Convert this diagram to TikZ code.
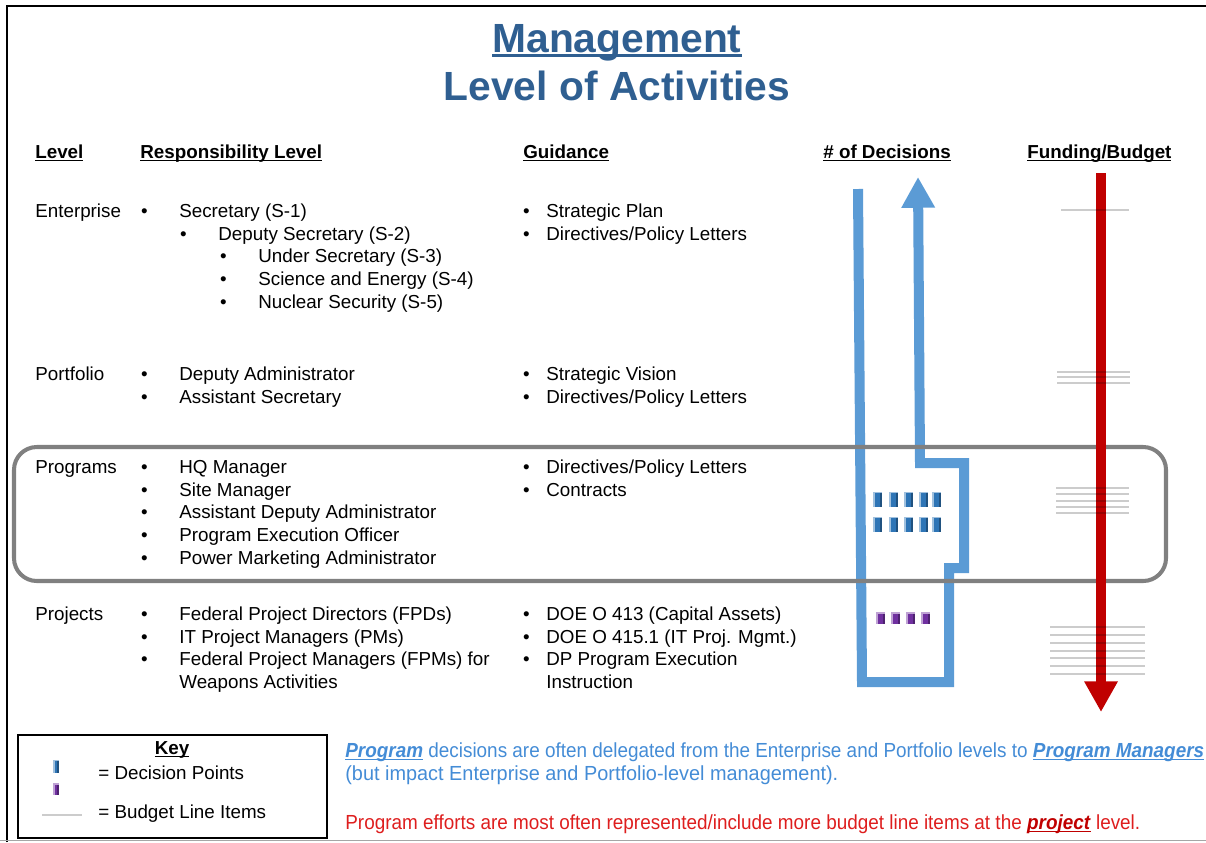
\documentclass[tikz,border=0pt]{standalone}
\usepackage{graphicx}
\usepackage{fontspec}
\setmainfont{Liberation Sans}
\usetikzlibrary{arrows.meta}

\definecolor{ttlblue}{RGB}{47,95,145}
\definecolor{decblue}{RGB}{91,155,213}
\definecolor{noteblue}{RGB}{68,140,214}
\definecolor{fundred}{RGB}{192,0,0}
\definecolor{notered}{RGB}{222,30,30}
\definecolor{boxgray}{RGB}{128,128,128}
\definecolor{ptblue}{RGB}{46,117,182}
\definecolor{ptpurple}{RGB}{112,48,160}

\providecommand{\bu}[1]{\llap{\textbullet\hskip#1}}
\providecommand{\undl}[3]{\setbox0\hbox{#3}\rlap{\usebox0}\rule[-#1]{\wd0}{#2}}
\providecommand{\dpoint}[5]{%
  \fill[#5] ({#1-#3/2},{#2-#4/2}) rectangle ({#1+#3/2},{#2+#4/2});
  \fill[#5!45!white] ({#1-#3/2},{#2-#4/2}) rectangle ({#1-#3/2+2},{#2+#4/2});
  \fill[#5!45!white] ({#1-#3/2},{#2-#4/2}) rectangle ({#1+#3/2},{#2-#4/2+1.5});
  \fill[#5!70!black] ({#1+#3/2-2},{#2-#4/2+1.5}) rectangle ({#1+#3/2},{#2+#4/2});}

\tikzstyle{txt} = [inner sep=0pt, anchor=base west, font={\fontsize{10.7pt}{13}\selectfont}]
\tikzstyle{hd} = [txt, font={\bfseries\fontsize{10.7pt}{13}\selectfont}]
\tikzstyle{ttl} = [inner sep=0pt, anchor=base, text=ttlblue, font={\bfseries\fontsize{23.2pt}{28}\selectfont}]
\tikzstyle{note} = [txt, font={\fontsize{11.6pt}{14}\selectfont}]
\tikzstyle{budget} = [draw=black, draw opacity=0.2, line width=0.85pt]

\begin{document}
\begin{tikzpicture}[x=0.02cm, y=-0.02cm, >={Triangle[width=18pt, length=17.5pt]}]
    \path [use as bounding box] (0,0) rectangle (1206,842);
    \draw [line width=1.4pt] (7,842) -- (7,6) -- (1206,6);
    \draw [gray!70, line width=1.1pt] (0,840.5) -- (1206,840.5);

    \node [ttl] (ttlA) at (617,52) {\undl{3pt}{1.6pt}{Management}};
    \node [ttl] (ttlB) at (617,100) {Level of Activities};

    \node [hd] (hLevel) at (35,158) {\undl{1.8pt}{0.9pt}{Level}};
    \node [hd] (hResp) at (140,158) {\undl{1.8pt}{0.9pt}{Responsibility Level}};
    \node [hd] (hGuide) at (523,158) {\undl{1.8pt}{0.9pt}{Guidance}};
    \node [hd] (hDec) at (823,158) {\undl{1.8pt}{0.9pt}{\# of Decisions}};
    \node [hd] (hFund) at (1027,158) {\undl{1.8pt}{0.9pt}{Funding/Budget}};

    % enterprise
    \node [txt] (lvEnt) at (35,217) {Enterprise};
    \node [txt] (rsEnt1) at (179,217) {\bu{18pt}Secretary (S-1)};
    \node [txt] (rsEnt2) at (218,240) {\bu{18pt}Deputy Secretary (S-2)};
    \node [txt] (rsEnt3) at (258,262) {\bu{18pt}Under Secretary (S-3)};
    \node [txt] (rsEnt4) at (258,285) {\bu{18pt}Science and Energy (S-4)};
    \node [txt] (rsEnt5) at (258,308) {\bu{18pt}Nuclear Security (S-5)};
    \node [txt] (gdEnt1) at (546,217) {\bu{9.5pt}Strategic Plan};
    \node [txt] (gdEnt2) at (546,240) {\bu{9.5pt}Directives/Policy Letters};

    % portfolio
    \node [txt] (lvPort) at (35,380) {Portfolio};
    \node [txt] (rsPort1) at (179,380) {\bu{18pt}Deputy Administrator};
    \node [txt] (rsPort2) at (179,403) {\bu{18pt}Assistant Secretary};
    \node [txt] (gdPort1) at (546,380) {\bu{9.5pt}Strategic Vision};
    \node [txt] (gdPort2) at (546,403) {\bu{9.5pt}Directives/Policy Letters};

    % programs
    \node [txt] (lvProg) at (35,473) {Programs};
    \node [txt] (rsProg1) at (179,473) {\bu{18pt}HQ Manager};
    \node [txt] (rsProg2) at (179,496) {\bu{18pt}Site Manager};
    \node [txt] (rsProg3) at (179,518) {\bu{18pt}Assistant Deputy Administrator};
    \node [txt] (rsProg4) at (179,541) {\bu{18pt}Program Execution Officer};
    \node [txt] (rsProg5) at (179,564) {\bu{18pt}Power Marketing Administrator};
    \node [txt] (gdProg1) at (546,473) {\bu{9.5pt}Directives/Policy Letters};
    \node [txt] (gdProg2) at (546,496) {\bu{9.5pt}Contracts};

    % projects
    \node [txt] (lvProj) at (35,620) {Projects};
    \node [txt] (rsProj1) at (179,620) {\bu{18pt}Federal Project Directors (FPDs)};
    \node [txt] (rsProj2) at (179,643) {\bu{18pt}IT Project Managers (PMs)};
    \node [txt] (rsProj3) at (179,665) {\bu{18pt}Federal Project Managers (FPMs) for};
    \node [txt] (rsProj4) at (179,688) {Weapons Activities};
    \node [txt] (gdProj1) at (546,620) {\bu{9.5pt}DOE O 413 (Capital Assets)};
    \node [txt] (gdProj2) at (546,643) {\bu{9.5pt}DOE O 415.1 (IT Proj. Mgmt.)};
    \node [txt] (gdProj3) at (546,665) {\bu{9.5pt}DP Program Execution};
    \node [txt] (gdProj4) at (546,688) {Instruction};

    % decisions flow
    \draw [->, decblue, line width=5.7pt] (858,189) -- (862,682) -- (949,682) -- (949,568) -- (964,568) -- (964,463) -- (920,463) -- (918,177);
    \draw [boxgray, line width=2.3pt, rounded corners=13pt] (14,447) rectangle (1166,581);
    \draw [->, fundred, line width=6.2pt] (1101,173) -- (1101,712);

    % budget line items
    \draw [budget] (1061,210) -- (1129,210);
    \foreach \y in {372,377,383} \draw [budget] (1057,\y) -- (1130,\y);
    \foreach \y in {488,494,501,507,513} \draw [budget] (1056,\y) -- (1129,\y);
    \foreach \y in {627,635,643,651,658,666,674} \draw [budget] (1050,\y) -- (1145,\y);

    % decision points
    \foreach \x in {877,893,908,923,936} {\dpoint{\x}{499}{9}{15}{ptblue} \dpoint{\x}{524}{9}{15}{ptblue}}
    \foreach \x in {880,895,910,925} {\dpoint{\x}{618}{9}{12}{ptpurple}}

    % key
    \draw [line width=1.1pt] (18,735) rectangle (327,838);
    \node [hd, anchor=base] (keyT) at (172,754) {\undl{1.8pt}{0.9pt}{Key}};
    \dpoint{56}{766}{6}{13}{ptblue}
    \dpoint{56}{789}{6}{12}{ptpurple}
    \node [txt] (keyD) at (98,779) {= Decision Points};
    \draw [budget] (42,815) -- (82,815);
    \node [txt] (keyB) at (98,818) {= Budget Line Items};

    \node [note, text=noteblue] (noteA) at (345,757) {\resizebox{17.18cm}{\height}{\undl{1.8pt}{0.8pt}{\textbf{\textit{Program}}} decisions are often delegated from the Enterprise and Portfolio levels to \undl{1.8pt}{0.8pt}{\textbf{\textit{Program Managers}}}}};
    \node [note, text=noteblue] (noteB) at (345,780) {\resizebox{9.86cm}{\height}{(but impact Enterprise and Portfolio-level management).}};
    \node [note, text=notered] (noteC) at (345,829) {\resizebox{15.9cm}{\height}{Program efforts are most often represented/include more budget line items at the \textcolor{fundred}{\undl{1.8pt}{0.8pt}{\textbf{\textit{project}}}} level.}};
\end{tikzpicture}
\end{document}
